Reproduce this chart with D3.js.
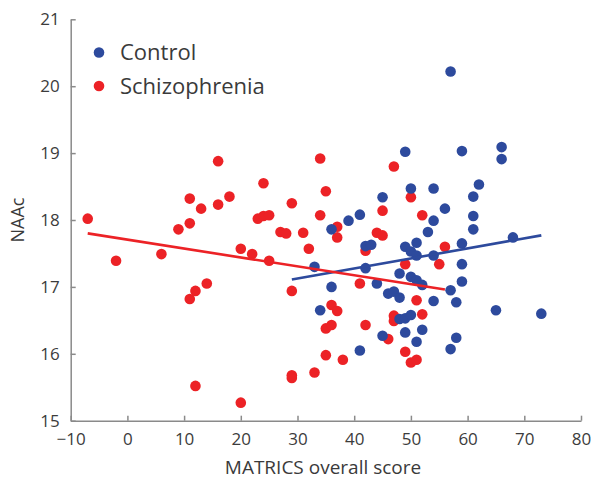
<!DOCTYPE html>
<html>
<head>
<meta charset="utf-8">
<script src="https://cdn.jsdelivr.net/npm/d3@7"></script>
<style>
  body { margin: 0; background: #fff; }
  text { font-family: "Open Sans", "Liberation Sans", sans-serif; }
</style>
</head>
<body>
<div id="chart"></div>
<script>
// MATRICS overall score vs NAAc, two groups
var seriesNames = ["Control", "Schizophrenia"];
var seriesColors = ["#2d4a9d", "#ec2226"];

var controlScore = [33, 34, 36, 36, 39, 41, 41, 42, 42, 43, 44, 45, 45, 46, 47, 48, 48, 48,
    49, 49, 49, 49, 50, 50, 50, 50, 51, 51, 51, 51, 52, 52, 53, 54, 54, 54, 54, 56,
    57, 57, 57, 58, 58, 59, 59, 59, 59, 61, 61, 61, 62, 65, 66, 66, 68, 73];
var controlNAAc = [17.30, 16.65, 17.86, 17.00, 17.99, 18.08, 16.05, 17.61, 17.28, 17.63, 17.05, 18.34, 16.27, 16.90, 16.93, 17.20, 16.84, 16.52,
    19.02, 17.60, 16.53, 16.32, 18.47, 17.53, 17.15, 16.58, 17.66, 17.47, 17.10, 16.18, 17.03, 16.36, 17.82, 18.47, 17.99, 17.47, 16.79, 18.17,
    20.22, 16.95, 16.07, 16.77, 16.24, 19.03, 17.65, 17.34, 17.08, 18.35, 18.06, 17.86, 18.53, 16.65, 19.09, 18.91, 17.74, 16.60];

var schizScore = [-7, -2, 6, 9, 11, 11, 11, 12, 12, 13, 14, 16, 16, 18, 20, 20, 22, 23, 24, 24,
    25, 25, 27, 28, 29, 29, 29, 29, 31, 32, 33, 34, 34, 35, 35, 35, 36, 36, 37, 37, 37, 38,
    41, 42, 42, 44, 45, 45, 46, 47, 47, 47, 49, 49, 50, 50, 51, 51, 52, 52, 55, 56];
var schizNAAc = [18.02, 17.39, 17.49, 17.86, 18.32, 17.95, 16.82, 16.94, 15.52, 18.17, 17.05, 18.88, 18.23, 18.35, 17.57, 15.27, 17.49, 18.02, 18.55, 18.06,
    18.07, 17.39, 17.82, 17.80, 18.25, 16.94, 15.68, 15.64, 17.81, 17.57, 15.72, 18.92, 18.07, 18.43, 16.38, 15.98, 16.73, 16.43, 17.90, 17.74, 16.64, 15.91,
    17.05, 17.54, 16.43, 17.81, 18.14, 17.77, 16.22, 18.80, 16.57, 16.49, 17.34, 16.03, 18.34, 15.87, 16.80, 15.91, 18.07, 16.59, 17.34, 17.60];

// fitted lines, end points
var controlFitX = [29, 73];
var controlFitY = [17.11, 17.77];
var schizFitX = [-7, 56];
var schizFitY = [17.80, 16.96];

var xTicks = [-10, 0, 10, 20, 30, 40, 50, 60, 70, 80];
var yTicks = [15, 16, 17, 18, 19, 20, 21];

var margin = {top: 19.3, right: 11, bottom: 60.3, left: 70.7};
var W = 592, H = 481;
var width = W - margin.left - margin.right;
var height = H - margin.top - margin.bottom;

var svg = d3.select("#chart").append("svg")
    .attr("width", W)
    .attr("height", H);

var g = svg.append("g")
    .attr("transform", "translate(" + margin.left + "," + margin.top + ")");

var x = d3.scaleLinear().domain([-10, 80]).range([0, width]);
var y = d3.scaleLinear().domain([15, 21]).range([height, 0]);

var minus = function(d) { return d < 0 ? "\u2212" + Math.abs(d) : String(d); };

var xAxis = g.append("g")
    .attr("transform", "translate(0," + height + ")")
    .call(d3.axisBottom(x).tickValues(xTicks).tickFormat(minus).tickSizeInner(-5).tickSizeOuter(0).tickPadding(12));

var yAxis = g.append("g")
    .call(d3.axisLeft(y).tickValues(yTicks).tickFormat(minus).tickSizeInner(-5).tickSizeOuter(0).tickPadding(11));

[xAxis, yAxis].forEach(function(a) {
    a.select(".domain").attr("stroke", "#8a8a8a").attr("stroke-width", 1.5);
    a.selectAll(".tick line").attr("stroke", "#8a8a8a").attr("stroke-width", 1.5);
    a.selectAll(".tick text")
        .attr("fill", "#3c3c3c")
        .style("font-size", "17px")
        .style("font-family", "'Open Sans', sans-serif");
});

// points - red group first, control on top
var groups = [
    {xs: schizScore, ys: schizNAAc, color: seriesColors[1]},
    {xs: controlScore, ys: controlNAAc, color: seriesColors[0]}
];

groups.forEach(function(grp) {
    g.append("g").selectAll("circle")
        .data(grp.xs.map(function(d, i) { return [d, grp.ys[i]]; }))
        .enter()
        .append("circle")
        .attr("cx", function(d) { return x(d[0]); })
        .attr("cy", function(d) { return y(d[1]); })
        .attr("r", 5.3)
        .attr("fill", grp.color);
});

// regression lines
var fits = [
    {xs: controlFitX, ys: controlFitY, color: seriesColors[0]},
    {xs: schizFitX, ys: schizFitY, color: seriesColors[1]}
];
var line = d3.line().x(function(d) { return x(d[0]); }).y(function(d) { return y(d[1]); });

fits.forEach(function(f) {
    g.append("path")
        .datum(f.xs.map(function(d, i) { return [d, f.ys[i]]; }))
        .attr("d", line)
        .attr("fill", "none")
        .attr("stroke", f.color)
        .attr("stroke-width", 2.6);
});

// legend
var legend = svg.append("g").attr("transform", "translate(99,60)");
seriesNames.forEach(function(name, i) {
    legend.append("circle")
        .attr("cx", 0)
        .attr("cy", i * 33.5 - 7.5)
        .attr("r", 5.3)
        .attr("fill", seriesColors[i]);
    legend.append("text")
        .attr("x", 21)
        .attr("y", i * 33.5)
        .attr("fill", "#3a3a3a")
        .style("font-size", "22px")
        .text(name);
});

// axis titles
svg.append("text")
    .attr("x", 323)
    .attr("y", 474)
    .attr("text-anchor", "middle")
    .attr("fill", "#3a3a3a")
    .style("font-size", "19px")
    .text("MATRICS overall score");

svg.append("text")
    .attr("transform", "translate(24,220) rotate(-90)")
    .attr("text-anchor", "middle")
    .attr("fill", "#3a3a3a")
    .style("font-size", "18px")
    .text("NAAc");
</script>
</body>
</html>
